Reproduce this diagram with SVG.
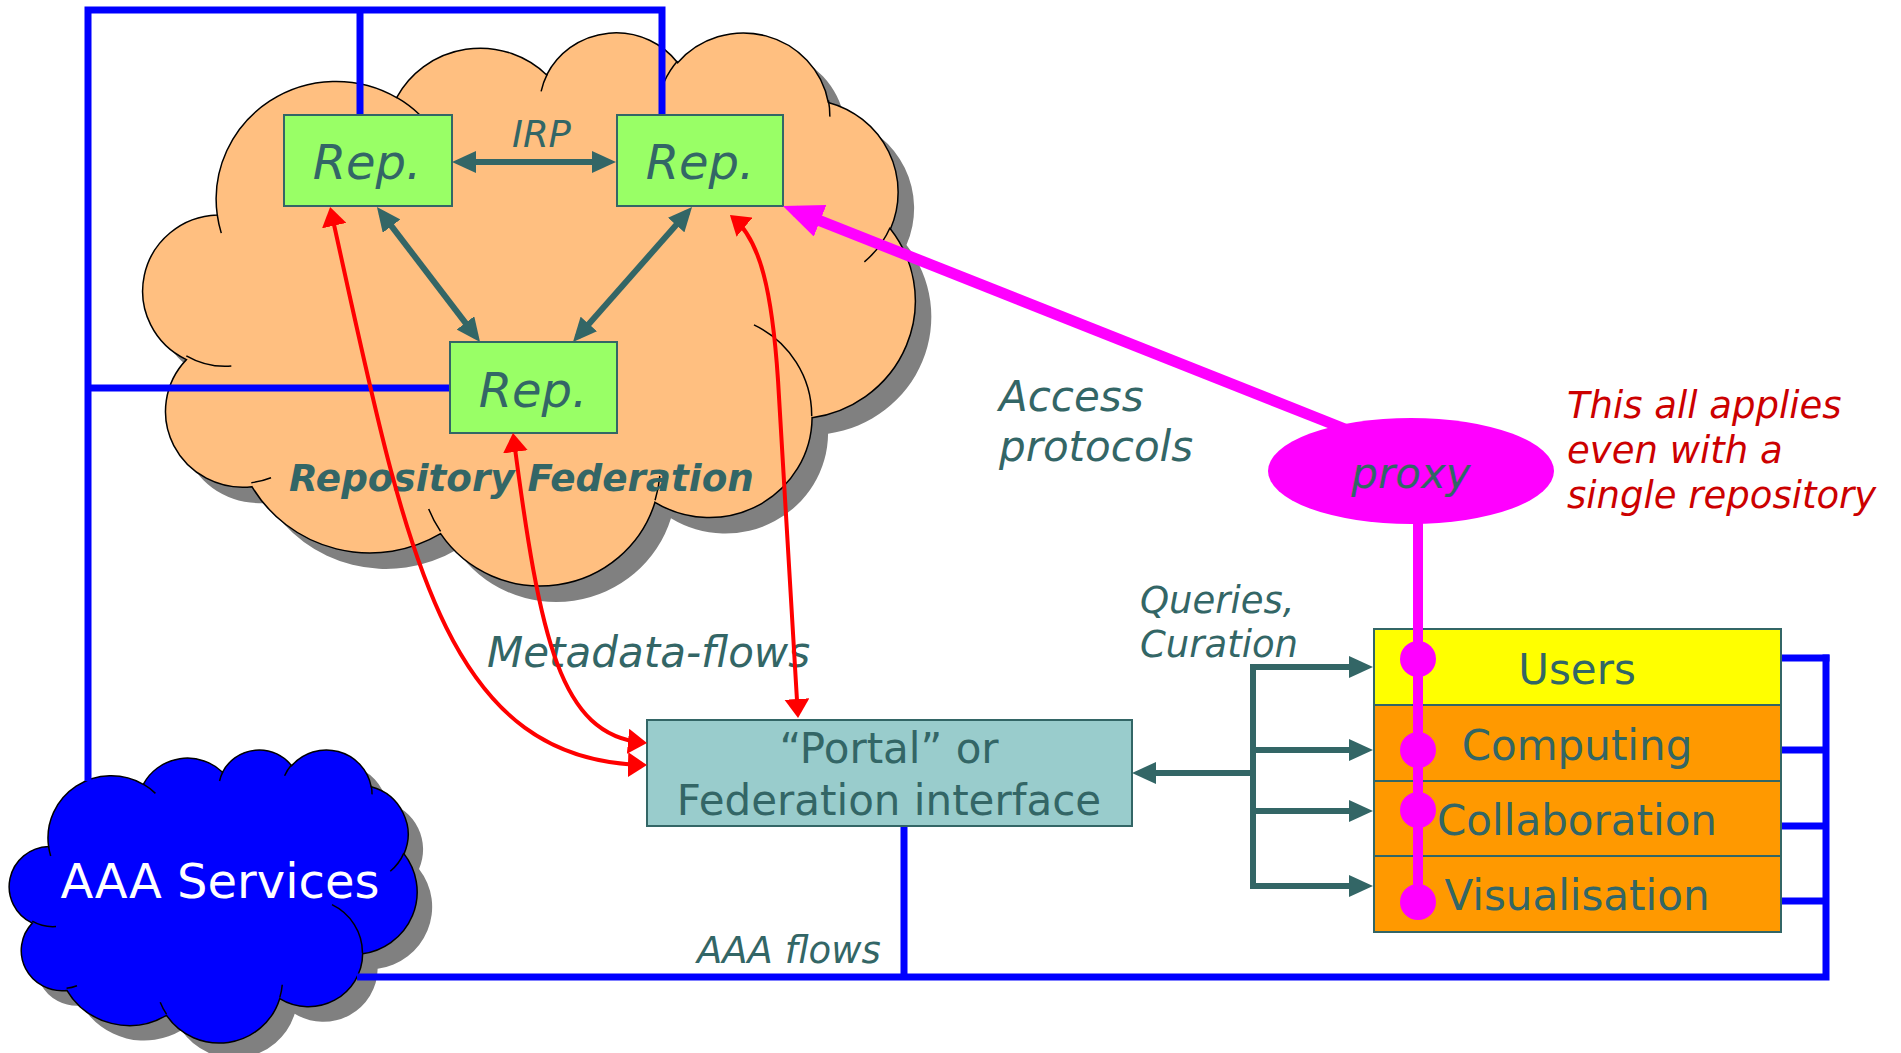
<svg xmlns="http://www.w3.org/2000/svg" xmlns:xlink="http://www.w3.org/1999/xlink" width="1901" height="1053" viewBox="0 0 1901 1053">
<style>
.t{font-family:"DejaVu Sans",Verdana,sans-serif;fill:#336666}
.i{font-style:italic}
.blue{stroke:#0000FF;stroke-width:7;fill:none;stroke-linejoin:miter}
.teal{stroke:#336666;stroke-width:6;fill:none}
.red{stroke:#FF0000;stroke-width:4;fill:none}
.mag{stroke:#FF00FF;fill:none}
.box{stroke:#336666;stroke-width:2}
.rep{fill:#99FF66}
</style>
<defs>
<path id="cloudShape" vector-effect="non-scaling-stroke" d="M3900,14370 A6753,9190 0 0 1 14004,5202 A5333,7267 0 0 1 22455,3432 A4365,5945 0 0 1 29832,2482 A4857,6595 0 0 1 38316,5579 A5333,7273 0 0 1 41817,15463 A6775,9220 0 0 1 37402,30204 A5785,7867 0 0 1 28554,36815 A6752,9215 0 0 1 16480,39268 A7720,10543 0 0 1 5853,35594 A4360,5918 0 0 1 2163,25671 A4345,5945 0 0 1 3900,14370 Z"/>
<path id="cloudTicks" vector-effect="non-scaling-stroke" fill="none" d="M4693,26177 A4345,5945 0 0 1 2159,25380 M6928,34899 A4360,5918 0 0 1 5819,35281 M16478,39090 A6752,9215 0 0 1 15809,37347 M28827,34751 A6752,9215 0 0 1 28560,36661 M34129,22954 A5785,7867 0 0 1 37381,30089 M41798,15354 A5333,7273 0 0 1 40348,18031 M38324,5426 A4857,6595 0 0 1 38401,6689 M29078,3952 A4857,6595 0 0 1 29821,2338 M22141,4720 A4365,5945 0 0 1 22500,3330 M14000,5192 A6753,9190 0 0 1 15302,6543 M4127,15789 A6753,9190 0 0 1 3901,14369"/>
<marker id="ahTeal" viewBox="0 0 24 22" refX="17" refY="11" markerWidth="24" markerHeight="22" markerUnits="userSpaceOnUse" orient="auto-start-reverse"><path d="M0,0 L24,11 L0,22 Z" fill="#336666"/></marker>
<marker id="ahRed" viewBox="0 0 19 25" refX="15" refY="12.5" markerWidth="19" markerHeight="25" markerUnits="userSpaceOnUse" orient="auto-start-reverse"><path d="M0,0 L19,12.5 L0,25 Z" fill="#FF0000"/></marker>
<marker id="ahMag" viewBox="0 0 40 34" refX="27" refY="17" markerWidth="40" markerHeight="34" markerUnits="userSpaceOnUse" orient="auto"><path d="M0,0 L40,17 L0,34 Z" fill="#FF00FF"/></marker>
</defs>
<rect x="0" y="0" width="1901" height="1053" fill="#FFFFFF"/>

<g id="federation-cloud">
<g transform="translate(164,47) scale(0.017755,0.012801)"><use xlink:href="#cloudShape" href="#cloudShape" fill="#808080"/></g>
<g transform="translate(148,31) scale(0.017755,0.012801)"><use xlink:href="#cloudShape" href="#cloudShape" fill="#FFBF80" stroke="#000000" stroke-width="1.5"/><use xlink:href="#cloudTicks" href="#cloudTicks" stroke="#000000" stroke-width="1.5"/></g>
<text class="t i" x="289" y="491" font-size="37.3" font-weight="bold">Repository Federation</text>
</g>

<g id="aaa-services">
<g transform="translate(27,764) scale(0.009375,0.0067824)"><use xlink:href="#cloudShape" href="#cloudShape" fill="#808080"/></g>
<g transform="translate(12,749) scale(0.009375,0.0067824)"><use xlink:href="#cloudShape" href="#cloudShape" fill="#0000FF" stroke="#000000" stroke-width="1.5"/><use xlink:href="#cloudTicks" href="#cloudTicks" stroke="#000000" stroke-width="1.5"/></g>
<text x="220" y="898" font-size="48" text-anchor="middle" style="font-family:'DejaVu Sans',Verdana,sans-serif;fill:#FFFFFF">AAA Services</text>
</g>

<g id="aaa-lines">
<polyline class="blue" points="662,115 662,10 88,10 88,781"/>
<line class="blue" x1="360" y1="10" x2="360" y2="115"/>
<line class="blue" x1="88" y1="388" x2="450" y2="388"/>
<polyline class="blue" points="357,977 1826,977 1826,654.5"/>
<line class="blue" x1="1781" y1="658" x2="1829.5" y2="658"/>
<line class="blue" x1="1781" y1="750" x2="1826" y2="750"/>
<line class="blue" x1="1781" y1="826" x2="1826" y2="826"/>
<line class="blue" x1="1781" y1="901" x2="1826" y2="901"/>
<line class="blue" x1="904" y1="826" x2="904" y2="977"/>
</g>

<g id="rep1"><rect class="rep box" x="284" y="115" width="168" height="91"/><text class="t i" x="367" y="179" font-size="48" text-anchor="middle">Rep.</text></g>
<g id="rep2"><rect class="rep box" x="617" y="115" width="166" height="91"/><text class="t i" x="700" y="179" font-size="48" text-anchor="middle">Rep.</text></g>
<g id="rep3"><rect class="rep box" x="450" y="342" width="167" height="91"/><text class="t i" x="533" y="407" font-size="48" text-anchor="middle">Rep.</text></g>

<g id="portal"><rect class="box" x="647" y="720" width="485" height="106" fill="#99CCCC"/>
<text class="t" x="889" y="763" font-size="42" text-anchor="middle">“Portal” or</text>
<text class="t" x="889" y="815" font-size="42" text-anchor="middle">Federation interface</text></g>

<g id="users"><rect class="box" x="1374" y="629" width="407" height="76" fill="#FFFF00"/><text class="t" x="1577" y="684" font-size="42" text-anchor="middle">Users</text></g>
<g id="computing"><rect class="box" x="1374" y="705" width="407" height="76" fill="#FF9900"/><text class="t" x="1577" y="760" font-size="42" text-anchor="middle">Computing</text></g>
<g id="collaboration"><rect class="box" x="1374" y="781" width="407" height="75" fill="#FF9900"/><text class="t" x="1577" y="835" font-size="42" text-anchor="middle">Collaboration</text></g>
<g id="visualisation"><rect class="box" x="1374" y="856" width="407" height="76" fill="#FF9900"/><text class="t" x="1577" y="910" font-size="42" text-anchor="middle">Visualisation</text></g>

<g id="labels">
<text class="t i" x="512" y="147" font-size="37">IRP</text>
<text class="t i" x="487" y="667" font-size="42">Metadata-flows</text>
<text class="t i" x="999" y="411" font-size="42">Access</text>
<text class="t i" x="999" y="461" font-size="42">protocols</text>
<text class="t i" x="1140" y="613" font-size="37">Queries,</text>
<text class="t i" x="1140" y="657" font-size="37">Curation</text>
<text class="t i" x="697" y="963" font-size="37">AAA flows</text>
<text class="i" x="1567" y="418" font-size="37" style="font-family:'DejaVu Sans',Verdana,sans-serif;fill:#CC0000">This all applies</text>
<text class="i" x="1567" y="463" font-size="37" style="font-family:'DejaVu Sans',Verdana,sans-serif;fill:#CC0000">even with a</text>
<text class="i" x="1567" y="508" font-size="37" style="font-family:'DejaVu Sans',Verdana,sans-serif;fill:#CC0000">single repository</text>
</g>

<g id="connectors">
<path class="teal" d="M459,162 L609,162" marker-start="url(#ahTeal)" marker-end="url(#ahTeal)"/>
<path class="teal" d="M381.2,212.6 L475.8,336.4" marker-start="url(#ahTeal)" marker-end="url(#ahTeal)"/>
<path class="teal" d="M687.4,212.3 L577.6,336.7" marker-start="url(#ahTeal)" marker-end="url(#ahTeal)"/>
<path class="teal" d="M1253,773 L1139,773" marker-end="url(#ahTeal)"/>
<path class="teal" d="M1253,664 L1253,889"/>
<path class="teal" d="M1250,667 L1366,667" marker-end="url(#ahTeal)"/>
<path class="teal" d="M1253,750 L1366,750" marker-end="url(#ahTeal)"/>
<path class="teal" d="M1253,811 L1366,811" marker-end="url(#ahTeal)"/>
<path class="teal" d="M1250,886 L1366,886" marker-end="url(#ahTeal)"/>
<path class="red" d="M331,211 C405,545 440,760 643,765" marker-start="url(#ahRed)" marker-end="url(#ahRed)"/>
<path class="red" d="M513.5,437 C540,640 560,735 643,742.6" marker-start="url(#ahRed)" marker-end="url(#ahRed)"/>
<path class="red" d="M733,217.6 C760,240 772,290 778,380 L797.8,714" marker-start="url(#ahRed)" marker-end="url(#ahRed)"/>
<path class="mag" stroke-width="11" d="M1345,429 L795,210.8" marker-end="url(#ahMag)"/>
<path class="mag" stroke-width="10" d="M1418,520 L1418,902"/>
<circle cx="1418" cy="659" r="18" fill="#FF00FF"/>
<circle cx="1418" cy="750" r="18" fill="#FF00FF"/>
<circle cx="1418" cy="810" r="18" fill="#FF00FF"/>
<circle cx="1418" cy="902" r="18" fill="#FF00FF"/>
</g>

<g id="proxy">
<ellipse cx="1411" cy="471" rx="143" ry="53" fill="#FF00FF"/>
<text class="t i" x="1411" y="488" font-size="42" text-anchor="middle">proxy</text>
</g>
</svg>
